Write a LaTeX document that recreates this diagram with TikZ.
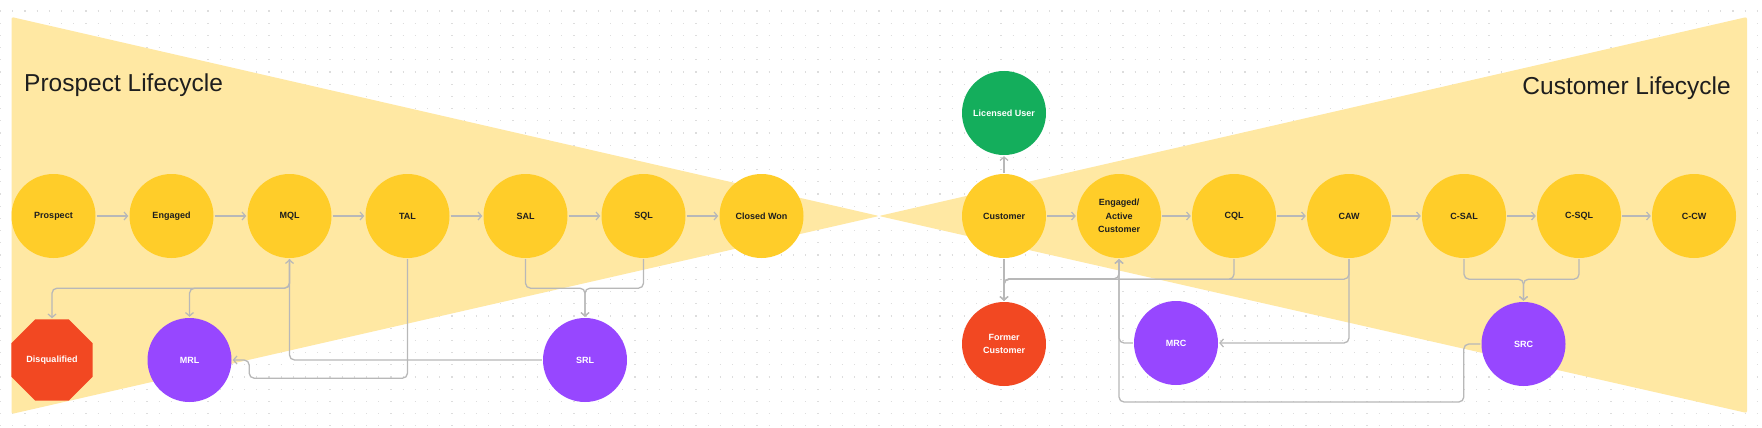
\documentclass[tikz,border=0pt]{standalone}
\usepackage{fontspec}
\setmainfont{Liberation Sans}
\usetikzlibrary{arrows.meta,shapes.geometric}
\definecolor{stageyellow}{HTML}{FFCD29}
\definecolor{bowyellow}{HTML}{FFE8A3}
\definecolor{licgreen}{HTML}{14AE5C}
\definecolor{lostred}{HTML}{F24822}
\definecolor{recpurple}{HTML}{9747FF}
\definecolor{linkgray}{HTML}{B8B8B8}
\definecolor{dotgray}{HTML}{DDDDDD}
\definecolor{inkdark}{HTML}{1E1E1E}
\tikzset{
  stage/.style={circle, fill=stageyellow, minimum size=84pt, inner sep=0pt, text=inkdark,
    align=center, font=\fontsize{9}{13.4}\selectfont\bfseries},
  side/.style={circle, minimum size=84pt, inner sep=0pt, text=white,
    align=center, font=\fontsize{9}{13.4}\selectfont\bfseries},
  link/.style={draw=linkgray, line width=1.3pt, rounded corners=5pt, shorten >=1pt, shorten <=1pt,
    -{Straight Barb[length=3.5pt,width=8pt,line width=1.2pt]}},
  title/.style={text=inkdark, font=\fontsize{24.5}{28}\selectfont, inner sep=0pt},
  dotrow/.style={draw=dotgray, line width=1.2pt, dash pattern=on 1.2pt off 11pt},
}
\begin{document}
\begin{tikzpicture}[x=1pt, y=-1pt]
\useasboundingbox (0,0) rectangle (1762,428);
\fill[white] (0,0) rectangle (1762,428);
\foreach \r in {0,...,34} \draw[dotrow] (0,11+12.2*\r) -- (1762,11+12.2*\r);
\fill[bowyellow, rounded corners=2pt] (11.5,17) -- (879,216) -- (11.5,414) -- cycle;
\fill[bowyellow, rounded corners=2pt] (1747,17) -- (879,216) -- (1747,413) -- cycle;

\node[title, anchor=west] (ptitle) at (24,85) {Prospect Lifecycle};
\node[title, anchor=east] (ctitle) at (1731,88) {Customer Lifecycle};

\node[stage] (prospect) at (53.5,216) {Prospect};
\node[stage] (engaged) at (171.5,216) {Engaged};
\node[stage] (mql) at (289.5,216) {MQL};
\node[stage] (tal) at (407.5,216) {TAL};
\node[stage] (sal) at (525.5,216) {SAL};
\node[stage] (sql) at (643.5,216) {SQL};
\node[stage] (won) at (761.5,216) {Closed Won};
\node[regular polygon, regular polygon sides=8, minimum size=87.7pt, inner sep=0pt, fill=lostred,
  text=white, font=\fontsize{9}{13.4}\selectfont\bfseries] (disq) at (52,360) {Disqualified};
\node[side, fill=recpurple] (mrl) at (189.5,360) {MRL};
\node[side, fill=recpurple] (srl) at (585,360) {SRL};

\node[stage] (cust) at (1004,216) {Customer};
\node[side, fill=licgreen] (licensed) at (1004,113) {Licensed User};
\node[side, fill=lostred] (former) at (1004,344) {Former\\Customer};
\node[stage] (active) at (1119,216) {Engaged/\\Active\\Customer};
\node[stage] (cql) at (1234,216) {CQL};
\node[stage] (caw) at (1349,216) {CAW};
\node[stage] (csal) at (1464,216) {C-SAL};
\node[stage] (csql) at (1579,216) {C-SQL};
\node[stage] (ccw) at (1694,216) {C-CW};
\node[side, fill=recpurple] (mrc) at (1176,343) {MRC};
\node[side, fill=recpurple] (src) at (1523.5,344) {SRC};

\draw[link] (prospect) -- (engaged);
\draw[link] (engaged) -- (mql);
\draw[link] (mql) -- (tal);
\draw[link] (tal) -- (sal);
\draw[link] (sal) -- (sql);
\draw[link] (sql) -- (won);
\draw[link] (mql.south) -- ++(0,30) -| (disq.north);
\draw[link] (mql.south) -- ++(0,30) -| (mrl.north);
\draw[link] (srl.west) -| (mql.south);
\draw[link] (tal.south) -- ++(0,120) -| ([xshift=17.5pt]mrl.east) -- (mrl.east);
\draw[link] (sal.south) -- ++(0,30) -| (srl.north);
\draw[link] (sql.south) -- ++(0,30) -| (srl.north);

\draw[link] (cust) -- (licensed);
\draw[link] (cust) -- (former);
\draw[link] (cust) -- (active);
\draw[link] (active) -- (cql);
\draw[link] (cql) -- (caw);
\draw[link] (caw) -- (csal);
\draw[link] (csal) -- (csql);
\draw[link] (csql) -- (ccw);
\draw[link] (cql.south) -- ++(0,21) -| (former.north);
\draw[link] (caw.south) -- ++(0,21) -| (former.north);
\draw[link] (former.north) -- ++(0,-23) -| (active.south);
\draw[link] (caw.south) |- (mrc.east);
\draw[link] (mrc.west) -| (active.south);
\draw[link] (src.west) -- ++(-17.5,0) -- ++(0,58) -| (active.south);
\draw[link] (csal.south) -- ++(0,21) -| (src.north);
\draw[link] (csql.south) -- ++(0,21) -| (src.north);
\end{tikzpicture}
\end{document}
